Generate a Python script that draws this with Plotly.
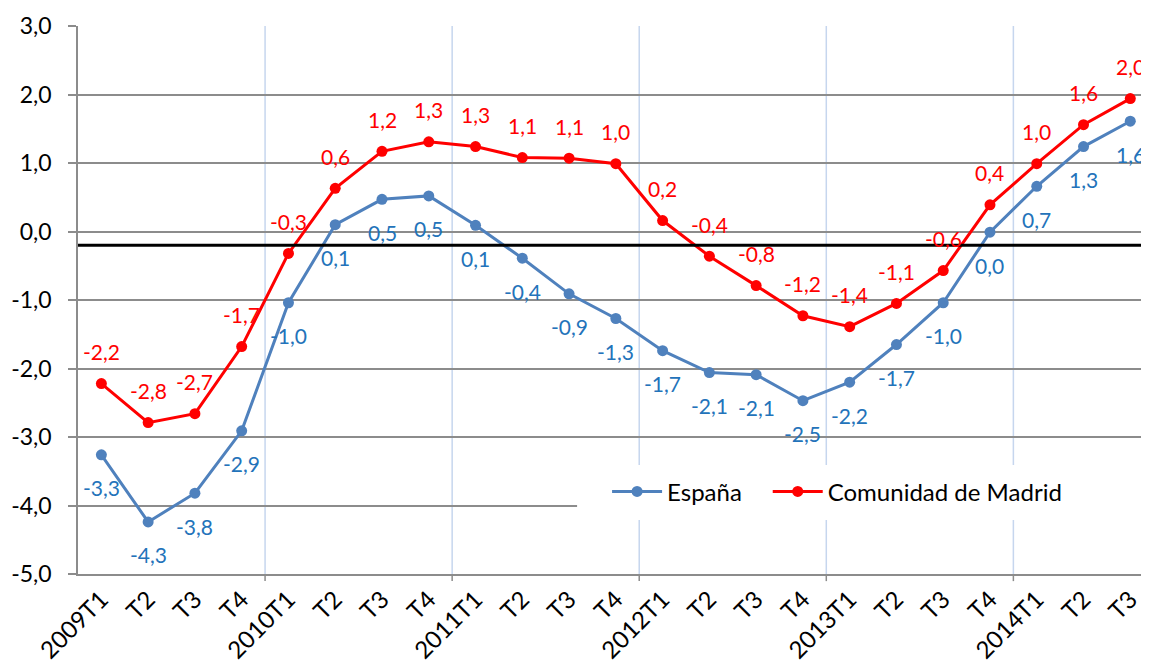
import plotly.graph_objects as go

periods = ["2009T1","2009T2","2009T3","2009T4","2010T1","2010T2","2010T3","2010T4",
           "2011T1","2011T2","2011T3","2011T4","2012T1","2012T2","2012T3","2012T4",
           "2013T1","2013T2","2013T3","2013T4","2014T1","2014T2","2014T3"]
tick_labels = ["2009T1","T2","T3","T4","2010T1","T2","T3","T4","2011T1","T2","T3","T4",
               "2012T1","T2","T3","T4","2013T1","T2","T3","T4","2014T1","T2","T3"]

espana = [-3.26, -4.24, -3.82, -2.91, -1.04, 0.10, 0.47, 0.52, 0.09, -0.39, -0.91, -1.27,
          -1.74, -2.06, -2.09, -2.47, -2.20, -1.65, -1.04, -0.01, 0.66, 1.24, 1.61]
espana_labels = ["-3,3","-4,3","-3,8","-2,9","-1,0","0,1","0,5","0,5","0,1","-0,4","-0,9","-1,3",
                 "-1,7","-2,1","-2,1","-2,5","-2,2","-1,7","-1,0","0,0","0,7","1,3","1,6"]

madrid = [-2.22, -2.79, -2.66, -1.68, -0.32, 0.63, 1.17, 1.31, 1.24, 1.08, 1.07, 0.99,
          0.16, -0.36, -0.79, -1.23, -1.39, -1.05, -0.57, 0.39, 0.99, 1.56, 1.94]
madrid_labels = ["-2,2","-2,8","-2,7","-1,7","-0,3","0,6","1,2","1,3","1,3","1,1","1,1","1,0",
                 "0,2","-0,4","-0,8","-1,2","-1,4","-1,1","-0,6","0,4","1,0","1,6","2,0"]

y_ticks = [-5, -4, -3, -2, -1, 0, 1, 2, 3]
y_tick_labels = ["-5,0", "-4,0", "-3,0", "-2,0", "-1,0", "0,0", "1,0", "2,0", "3,0"]

reference_level = -0.2
year_boundaries = [3.5, 7.5, 11.5, 15.5, 19.5]

FONT = "Lato"
BLUE_LINE = "#4F81BD"
BLUE_TEXT = "#2373BA"
RED = "#FF0000"
GRID = "#8C8C8C"
VGRID = "#C6D6EE"

fig = go.Figure()
fig.add_trace(go.Scatter(x=periods, y=espana, name="España", mode="lines+markers",
                         line=dict(color=BLUE_LINE, width=3),
                         marker=dict(color=BLUE_LINE, size=11), legend="legend"))
fig.add_trace(go.Scatter(x=periods, y=madrid, name="Comunidad de Madrid", mode="lines+markers",
                         line=dict(color=RED, width=3),
                         marker=dict(color=RED, size=11), legend="legend2"))

annotations = []
for p, v, t in zip(periods, espana, espana_labels):
    annotations.append(dict(x=p, y=v, text=t, showarrow=False, yshift=-33,
                            font=dict(family=FONT, size=21, color=BLUE_TEXT)))
for p, v, t in zip(periods, madrid, madrid_labels):
    annotations.append(dict(x=p, y=v, text=t, showarrow=False, yshift=32,
                            font=dict(family=FONT, size=21, color=RED)))

shapes = []
for b in year_boundaries:
    shapes.append(dict(type="line", xref="x", yref="y", x0=b, x1=b, y0=-5, y1=3,
                       line=dict(color=VGRID, width=1.5), layer="below"))
    shapes.append(dict(type="line", xref="x", yref="paper", x0=b, x1=b, y0=0, y1=-0.013,
                       line=dict(color=GRID, width=1.5)))
shapes.append(dict(type="line", xref="paper", yref="y", x0=0, x1=1,
                   y0=reference_level, y1=reference_level,
                   line=dict(color="black", width=3)))
# white legend backdrop
shapes.append(dict(type="rect", xref="paper", yref="paper", x0=0.466, x1=1.0,
                   y0=0.0985, y1=0.199, fillcolor="white", line=dict(width=0),
                   layer="above"))

legend_common = dict(orientation="h", xanchor="left", y=0.15, yanchor="middle",
                     bgcolor="rgba(0,0,0,0)", font=dict(family=FONT, size=24, color="black"),
                     itemwidth=50)

# page body has an 8px default margin, so the figure is sized/offset to compensate
fig.update_layout(
    width=1141, height=655,
    margin=dict(l=70, r=0, t=18, b=89, autoexpand=False),
    paper_bgcolor="white", plot_bgcolor="white",
    font=dict(family=FONT, size=22, color="black"),
    showlegend=True,
    legend=dict(x=0.494, **legend_common),
    legend2=dict(x=0.644, **legend_common),
    annotations=annotations,
    shapes=shapes,
)
fig.update_xaxes(type="category", range=[-0.5, 22.4], tickmode="array",
                 tickvals=periods, ticktext=tick_labels, tickangle=-45,
                 ticks="", showgrid=False, showline=True, linecolor=GRID, linewidth=1.5,
                 tickfont=dict(family=FONT, size=24, color="black"), zeroline=False)
fig.update_yaxes(range=[-5, 3], tickmode="array", tickvals=y_ticks, ticktext=y_tick_labels,
                 showgrid=True, gridcolor=GRID, gridwidth=1.5,
                 showline=True, linecolor=GRID, linewidth=1.5,
                 ticks="outside", ticklen=8, tickcolor=GRID, tickwidth=1.5,
                 ticklabelstandoff=12,
                 tickfont=dict(family=FONT, size=23, color="black"), zeroline=False)

fig.write_html("out.html")
